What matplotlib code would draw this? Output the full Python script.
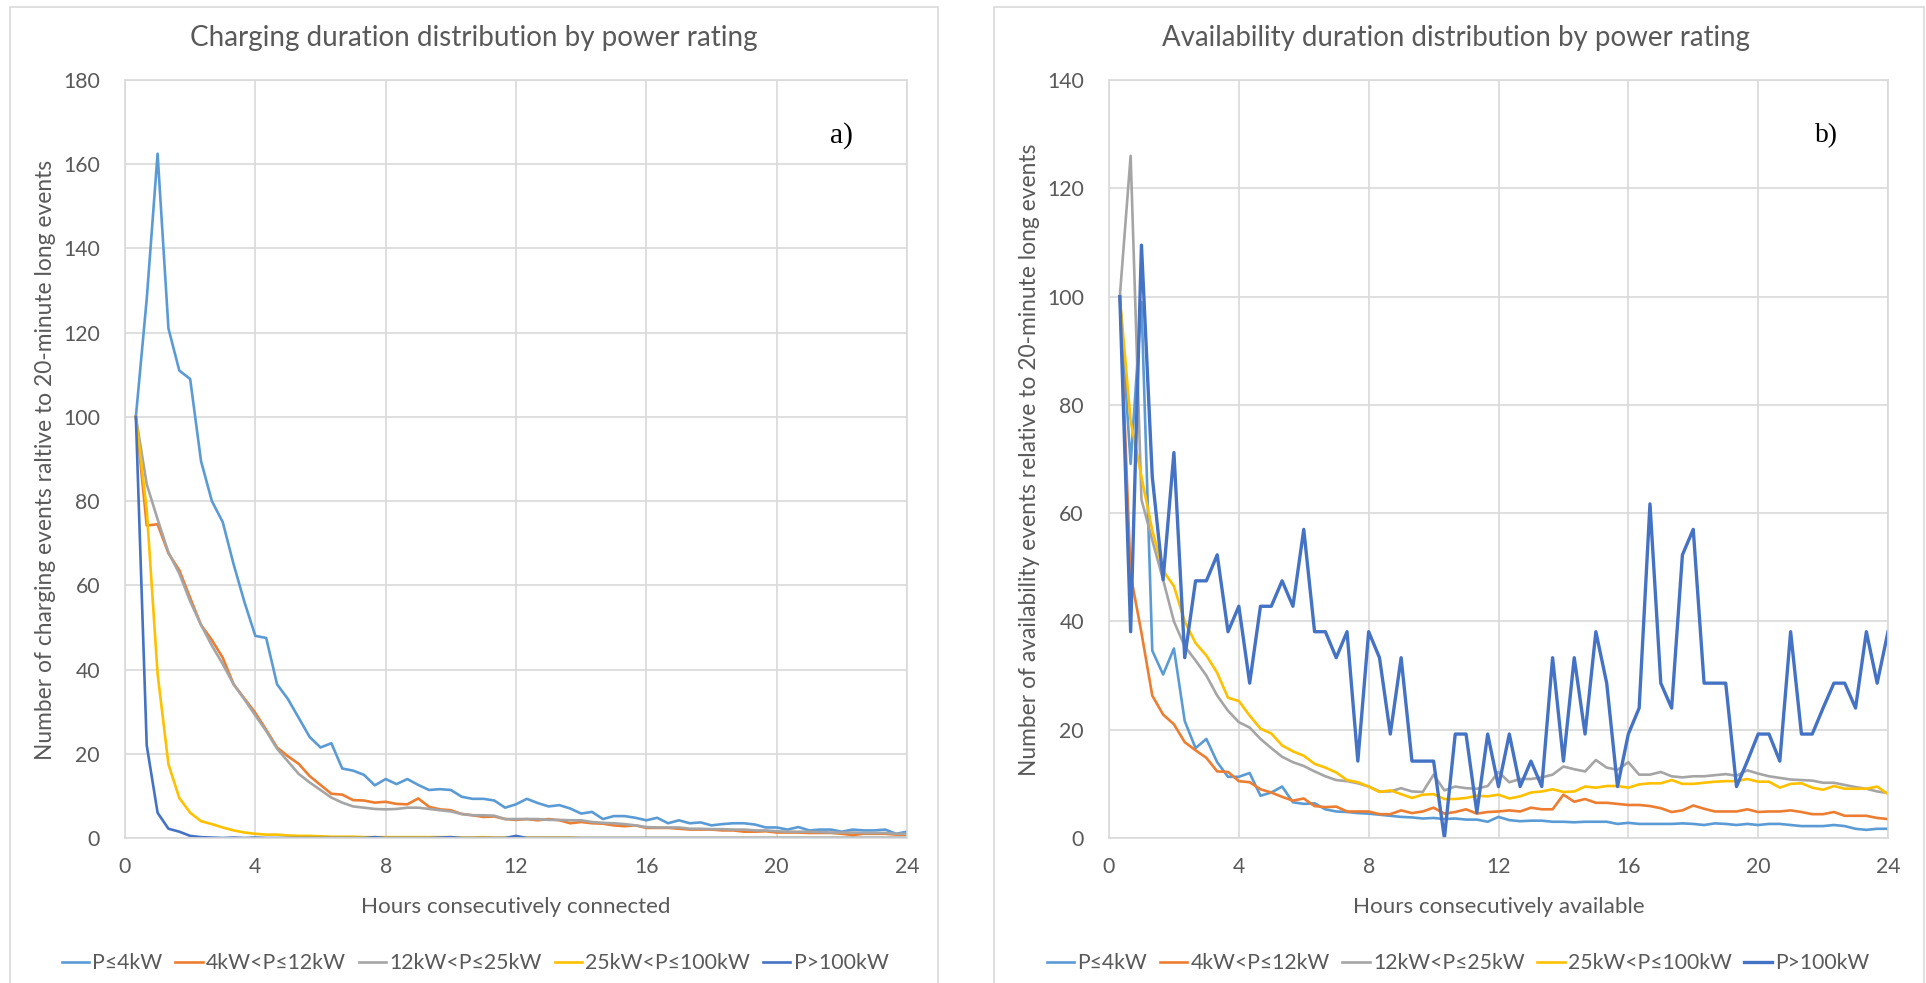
import matplotlib.pyplot as plt
from matplotlib.patches import Rectangle
import numpy as np

plt.rcParams['font.family'] = ['Lato', 'DejaVu Sans']

# 20-minute steps, 1/3 h .. 24 h
hours = np.arange(1, 73) / 3.0

series_names = ["P≤4kW", "4kW<P≤12kW", "12kW<P≤25kW", "25kW<P≤100kW", "P>100kW"]
colors = ["#5B9BD5", "#ED7D31", "#A5A5A5", "#FFC000", "#4472C4"]

# a) charging duration
charge_p4 = [100, 128, 162.5, 121, 111, 109, 89.5, 80, 75, 65, 56, 48,
             47.5, 36.5, 33, 28.5, 24, 21.5, 22.5, 16.5, 16, 15, 12.5, 14,
             12.8, 14, 12.6, 11.4, 11.6, 11.4, 9.8, 9.3, 9.3, 8.9, 7.2, 8,
             9.3, 8.3, 7.5, 7.8, 7, 5.8, 6.2, 4.5, 5.2, 5.2, 4.8, 4.2,
             4.8, 3.5, 4.2, 3.5, 3.7, 3, 3.3, 3.5, 3.5, 3.2, 2.5, 2.5,
             2, 2.6, 1.8, 2, 2, 1.5, 2, 1.8, 1.8, 2, 1, 1.5]
charge_p12 = [100, 74.2, 74.5, 67.6, 63.6, 57, 50.6, 47, 42.8, 36.5, 33.1, 29.7,
              25.7, 21.5, 19.4, 17.6, 14.7, 12.6, 10.5, 10.3, 9.0, 8.9, 8.4, 8.6,
              8.1, 8.0, 9.4, 7.4, 6.8, 6.6, 5.7, 5.4, 5.0, 5.1, 4.5, 4.3,
              4.5, 4.2, 4.5, 4.2, 3.5, 3.8, 3.5, 3.4, 3.0, 2.8, 3.0, 2.4,
              2.4, 2.4, 2.2, 2.0, 2.0, 2.0, 1.8, 1.8, 1.5, 1.5, 1.6, 1.3,
              1.3, 1.3, 1.2, 1.2, 1.2, 1.0, 0.7, 1.0, 1.0, 1.0, 0.8, 0.8]
charge_p25 = [100, 84, 75.7, 67.8, 62.8, 56.2, 50.6, 45.7, 41.3, 36.5, 32.9, 29.1,
              25.4, 21.2, 18.2, 15.2, 13.2, 11.4, 9.6, 8.4, 7.5, 7.2, 6.9, 6.8,
              6.9, 7.2, 7.2, 6.9, 6.6, 6.3, 5.7, 5.4, 5.4, 5.3, 4.5, 4.5,
              4.5, 4.5, 4.3, 4.3, 4.2, 4.2, 3.8, 3.6, 3.5, 3.3, 3.0, 2.6,
              2.5, 2.5, 2.5, 2.2, 2.2, 2.1, 2.1, 2.0, 2.0, 1.8, 1.8, 1.6,
              1.5, 1.5, 1.5, 1.4, 1.3, 1.3, 1.3, 1.2, 1.2, 1.2, 1.0, 1.0]
charge_p100 = [100, 78, 39, 17.5, 9.5, 6, 4, 3.3, 2.5, 1.8, 1.3, 1.0,
               0.8, 0.8, 0.6, 0.5, 0.5, 0.4, 0.3, 0.3, 0.3, 0.2, 0.2, 0.2,
               0.2, 0.2, 0.2, 0.2, 0.2, 0.2, 0.1, 0.1, 0.2, 0.1, 0.1, 0.2,
               0.1, 0.1, 0.1, 0.1, 0.1, 0, 0, 0, 0, 0, 0, 0,
               0, 0, 0, 0, 0, 0, 0, 0, 0, 0, 0, 0,
               0, 0, 0, 0, 0, 0, 0, 0, 0, 0, 0, 0]
charge_pmax = [100, 22, 6, 2.2, 1.5, 0.5, 0.2, 0.1, 0, 0.1, 0, 0.1,
               0, 0, 0, 0, 0, 0, 0, 0, 0, 0, 0.2, 0,
               0, 0, 0, 0, 0.1, 0.2, 0, 0, 0, 0, 0, 0.5,
               0, 0, 0, 0, 0, 0, 0, 0, 0, 0, 0, 0,
               0, 0, 0, 0, 0, 0, 0, 0, 0, 0, 0, 0,
               0, 0, 0, 0, 0, 0, 0, 0, 0, 0, 0, 0]

# b) availability duration
avail_p4 = [100, 69.1, 99, 34.6, 30.2, 35, 21.6, 16.6, 18.3, 14, 11.3, 11.3,
            12, 7.8, 8.4, 9.5, 6.6, 6.3, 6.4, 5.3, 4.9, 4.8, 4.6, 4.5,
            4.3, 4.1, 3.9, 3.8, 3.6, 3.7, 3.5, 3.6, 3.4, 3.4, 3.0, 3.9,
            3.3, 3.1, 3.2, 3.2, 3.0, 3.0, 2.9, 3.0, 3.0, 3.0, 2.6, 2.8,
            2.6, 2.6, 2.6, 2.6, 2.7, 2.6, 2.4, 2.7, 2.6, 2.4, 2.6, 2.4,
            2.6, 2.6, 2.4, 2.2, 2.2, 2.2, 2.4, 2.2, 1.7, 1.5, 1.7, 1.7]
avail_p12 = [100, 48.6, 37.9, 26.3, 22.8, 21, 17.7, 16.2, 14.8, 12.3, 12.2, 10.5,
             10.3, 9.0, 8.4, 7.6, 6.9, 7.3, 5.9, 5.7, 5.8, 4.9, 4.9, 4.9,
             4.4, 4.4, 5.1, 4.6, 4.9, 5.6, 4.5, 4.8, 5.3, 4.5, 4.8, 4.9,
             5.1, 4.9, 5.6, 5.3, 5.3, 8.0, 6.7, 7.2, 6.5, 6.5, 6.3, 6.1,
             6.1, 5.9, 5.5, 4.8, 5.1, 6.0, 5.4, 4.9, 4.9, 4.9, 5.3, 4.8,
             4.9, 4.9, 5.1, 4.8, 4.4, 4.4, 4.8, 4.1, 4.1, 4.1, 3.7, 3.5]
avail_p25 = [100, 126, 62.5, 55, 47.7, 40, 35.4, 32.8, 30, 26.3, 23.5, 21.4,
             20.4, 18.3, 16.6, 15, 14, 13.3, 12.3, 11.4, 10.7, 10.5, 10.1, 9.5,
             8.6, 8.6, 9.2, 8.6, 8.5, 11.7, 8.8, 9.5, 9.2, 9.1, 9.6, 12.2,
             10.3, 10.9, 10.9, 11.2, 11.7, 13.2, 12.7, 12.3, 14.4, 13.0, 12.6, 14.0,
             11.7, 11.7, 12.2, 11.4, 11.2, 11.4, 11.4, 11.6, 11.8, 11.5, 12.5, 11.9,
             11.4, 11.1, 10.8, 10.7, 10.6, 10.2, 10.2, 9.8, 9.4, 9.1, 8.6, 8.3]
avail_p100 = [100, 77, 66.7, 56.8, 49.4, 46.5, 40, 36, 33.7, 30.5, 25.9, 25.3,
              22.6, 20.2, 19.3, 17.1, 16, 15.2, 13.7, 13, 12.1, 10.7, 10.3, 9.5,
              8.5, 8.8, 8.1, 7.4, 8.0, 8.1, 7.2, 7.2, 7.4, 7.8, 7.7, 8.0,
              7.3, 7.7, 8.4, 8.6, 9.0, 8.5, 8.6, 9.5, 9.3, 9.6, 9.6, 9.3,
              9.9, 10.1, 10.1, 10.7, 10.0, 10.0, 10.2, 10.4, 10.5, 10.5, 10.9, 10.4,
              10.4, 9.3, 10.0, 10.1, 9.3, 8.9, 9.6, 9.1, 9.1, 9.1, 9.5, 8.1]
avail_pmax = [100, 38.1, 109.5, 66.7, 47.7, 71.2, 33.3, 47.5, 47.5, 52.3, 38.1, 42.8,
              28.6, 42.8, 42.8, 47.5, 42.8, 57, 38.1, 38.1, 33.3, 38.1, 14.2, 38.1,
              33.3, 19.2, 33.3, 14.2, 14.2, 14.2, 0, 19.2, 19.2, 4.7, 19.2, 9.5,
              19.2, 9.5, 14.2, 9.5, 33.3, 14.2, 33.3, 19.2, 38.1, 28.6, 9.5, 19.2,
              24, 61.7, 28.6, 24, 52.3, 57, 28.6, 28.6, 28.6, 9.5, 14.2, 19.2,
              19.2, 14.2, 38.1, 19.2, 19.2, 24, 28.6, 28.6, 24, 38.1, 28.6, 38.1]

charge_data = [charge_p4, charge_p12, charge_p25, charge_p100, charge_pmax]
avail_data = [avail_p4, avail_p12, avail_p25, avail_p100, avail_pmax]

text_col = "#595959"
grid_col = "#D9D9D9"
W, H = 1926, 983
TOP, BOT = 80, 838  # plot area, pixels from top

fig = plt.figure(figsize=(W / 100, H / 100), dpi=100)

# panel frames (Excel chart area borders)
for x0, x1 in [(10, 938), (994, 1924)]:
    fig.add_artist(Rectangle((x0 / W, -0.05), (x1 - x0) / W, 1.05 - 7 / H,
                             transform=fig.transFigure, fill=False,
                             edgecolor=grid_col, linewidth=1.2))

panels = [
    dict(rect=[125, 907], data=charge_data, ymax=180, title="Charging duration distribution by power rating",
         xlabel="Hours consecutively connected",
         ylabel="Number of charging events raltive to 20-minute long events",
         tag="a)", tag_x=841, center=474, ylab_x=46, leg_x=475,
         w_title=562, w_xlab=310, w_ylab=600, w_leg=827),
    dict(rect=[1109, 1888], data=avail_data, ymax=140, title="Availability duration distribution by power rating",
         xlabel="Hours consecutively available",
         ylabel="Number of availability events relative to 20-minute long events",
         tag="b)", tag_x=1826, center=1456, ylab_x=1030, leg_x=1458,
         w_title=584, w_xlab=291, w_ylab=633, w_leg=824),
]

fitted = []  # (text artist, target size in px along its reading direction)
for p in panels:
    l, r = p["rect"]
    ax = fig.add_axes([l / W, 1 - BOT / H, (r - l) / W, (BOT - TOP) / H])
    for i, (name, vals) in enumerate(zip(series_names, p["data"])):
        lw = 2.4 if (i == 4 and p["tag"] == "b)") else 1.9
        ax.plot(hours, vals, color=colors[i], linewidth=lw, label=name)
    ax.set_xlim(0, 24)
    ax.set_ylim(0, p["ymax"])
    ax.set_xticks(range(0, 25, 4))
    ax.set_yticks(range(0, p["ymax"] + 1, 20))
    ax.grid(True, color=grid_col, linewidth=1.2)
    ax.set_axisbelow(True)
    for s in ax.spines.values():
        s.set_color(grid_col)
        s.set_linewidth(1.2)
    ax.tick_params(length=0, labelsize=17, colors=text_col)
    ax.tick_params(axis="y", pad=18)
    ax.tick_params(axis="x", pad=14)
    p["ax"] = ax

    t = fig.text(p["center"] / W, 1 - 38 / H, p["title"], ha="center", va="center",
                 fontsize=18, color=text_col)
    fitted.append((t, p["w_title"], False))
    t = fig.text((l + r) / 2 / W, 1 - 907 / H, p["xlabel"], ha="center", va="center",
                 fontsize=15, color=text_col)
    fitted.append((t, p["w_xlab"], False))
    t = fig.text(p["ylab_x"] / W, 1 - 460 / H, p["ylabel"], ha="center", va="center",
                 rotation=90, fontsize=15, color=text_col)
    fitted.append((t, p["w_ylab"], True))
    t = fig.text(p["tag_x"] / W, 1 - 136 / H, p["tag"], ha="center", va="center",
                 fontsize=21, color="black", family="Liberation Serif")
    fitted.append((t, 23, False))

# scale text sizes so widths match the reference (Calibri substitute is wider)
fig.canvas.draw()
rend = fig.canvas.get_renderer()
for t, target, vertical in fitted:
    bb = t.get_window_extent(rend)
    size = bb.height if vertical else bb.width
    t.set_fontsize(t.get_fontsize() * target / size)

# tick labels: "180" is about 37 px wide in the reference
top_lab = panels[0]["ax"].get_yticklabels()[-1]
tick_fs = 17 * 37 / top_lab.get_window_extent(rend).width
for p in panels:
    p["ax"].tick_params(labelsize=tick_fs)

# legends, fitted to reference width
for p in panels:
    handles, labels = p["ax"].get_legend_handles_labels()
    fs = 15.0
    for _ in range(3):
        leg = fig.legend(handles, labels, loc="center", ncol=5,
                         bbox_to_anchor=(p["leg_x"] / W, 1 - 963 / H),
                         frameon=False, fontsize=fs, handlelength=1.3,
                         handletextpad=0.15, columnspacing=0.6,
                         borderpad=0, borderaxespad=0)
        for t in leg.get_texts():
            t.set_color(text_col)
        fig.canvas.draw()
        w = leg.get_window_extent(rend).width
        if abs(w - p["w_leg"]) < 3:
            break
        leg.remove()
        fs = fs * p["w_leg"] / w

plt.savefig("out.png", dpi=100)
